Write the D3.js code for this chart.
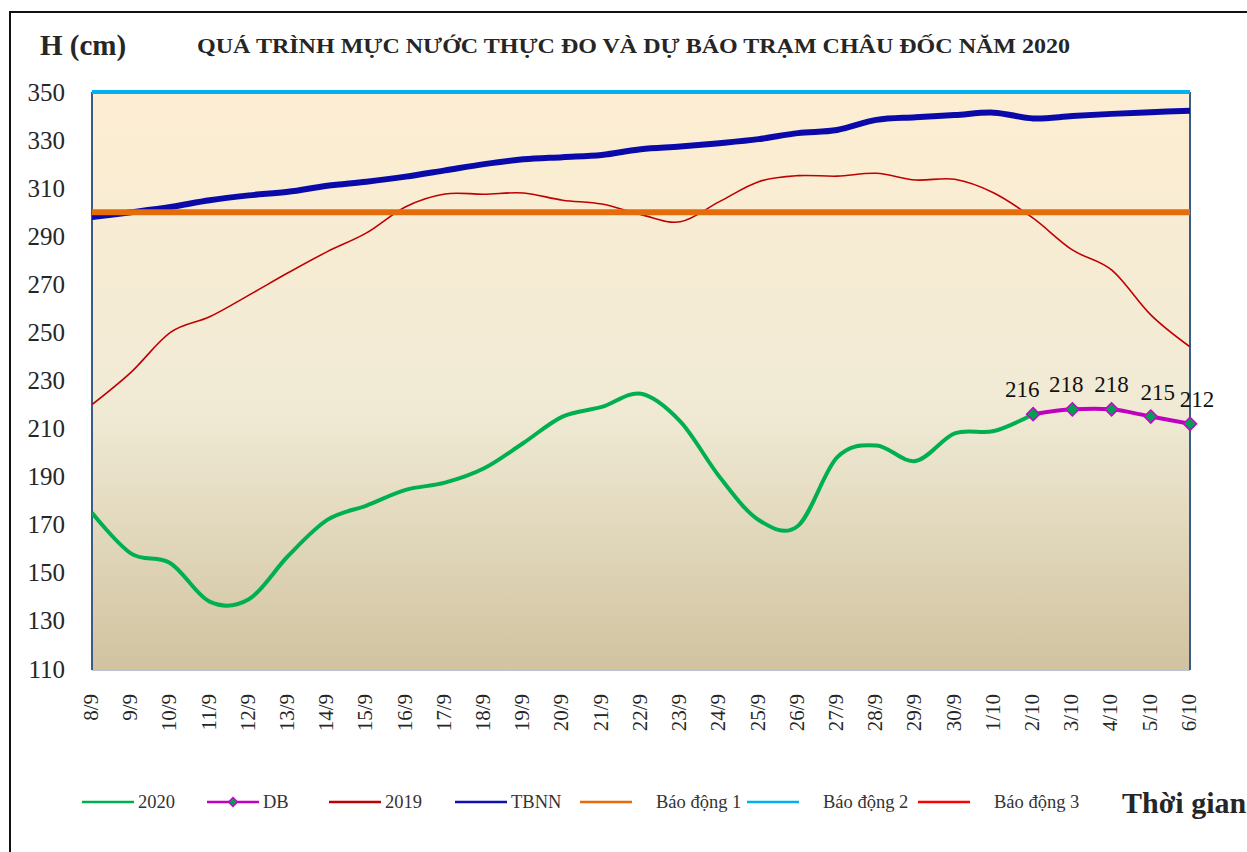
<!DOCTYPE html>
<html>
<meta charset="utf-8">
<title>Mực nước Châu Đốc 2020</title>
<style>
body {
  margin: 0;
  background: #fff;
}

svg text {
  font-family: "Liberation Serif", "Times New Roman", serif;
}

.axis path,
.axis line {
  display: none;
}

.axis text {
  fill: #262626;
}

.legend text {
  font-size: 18.5px;
  fill: #333;
}
</style>
<body>
<div id="chart"></div>
<script src="https://d3js.org/d3.v7.min.js"></script>
<script>

// ngày (trục hoành)
var dates = ["8/9", "9/9", "10/9", "11/9", "12/9", "13/9", "14/9", "15/9", "16/9", "17/9",
  "18/9", "19/9", "20/9", "21/9", "22/9", "23/9", "24/9", "25/9", "26/9", "27/9",
  "28/9", "29/9", "30/9", "1/10", "2/10", "3/10", "4/10", "5/10", "6/10"];

// thực đo 2020 (8/9 -> 2/10)
var h2020 = [175, 158, 154, 138, 139, 157, 172, 178, 184.5, 187.5,
  193.5, 204, 215, 219, 224.5, 213, 190, 172, 169.5, 198,
  203, 196.5, 208, 209, 216];

// dự báo
var dbDates = ["2/10", "3/10", "4/10", "5/10", "6/10"];
var dbValues = [216, 218, 218, 215, 212];

// năm 2019
var h2019 = [220, 233.5, 250, 256.5, 265.5, 274.8, 283.6, 291.4, 302.3, 307.6,
  307.5, 308, 305, 303.4, 299, 296, 304.4, 312.7, 315.2, 315,
  316.2, 313.4, 313.7, 308, 297.5, 284.3, 276, 257.3, 244];

// trung bình nhiều năm
var tbnn = [298, 300, 302.2, 305, 307, 308.5, 311, 312.7, 314.8, 317.4,
  320, 322, 322.9, 323.8, 326.2, 327.3, 328.7, 330.4, 332.9, 334.2,
  338.4, 339.5, 340.4, 341.4, 339, 340, 340.9, 341.6, 342.2];

// mức báo động 1, 2, 3
var alarmNames = ["Báo động 1", "Báo động 2", "Báo động 3"];
var alarmLevels = [300, 350, 400];

var yTicks = [110, 130, 150, 170, 190, 210, 230, 250, 270, 290, 310, 330, 350];

var width = 1247,
  height = 852;

var plot = { left: 92, right: 1190, top: 92, bottom: 669 };

var x = d3.scalePoint()
  .domain(dates)
  .range([plot.left, plot.right]);

var y = d3.scaleLinear()
  .domain([110, 350])
  .range([plot.bottom, plot.top]);

var svg = d3.select("#chart").append("svg")
  .attr("width", width)
  .attr("height", height);

var defs = svg.append("defs");

var grad = defs.append("linearGradient")
  .attr("id", "bg")
  .attr("x1", 0).attr("y1", 0)
  .attr("x2", 0).attr("y2", 1);
grad.append("stop").attr("offset", "0%").attr("stop-color", "#fdeed2");
grad.append("stop").attr("offset", "55%").attr("stop-color", "#f0ead5");
grad.append("stop").attr("offset", "100%").attr("stop-color", "#d1c3a0");

defs.append("clipPath").attr("id", "clip")
  .append("rect")
  .attr("x", plot.left)
  .attr("y", plot.top - 3)
  .attr("width", plot.right - plot.left)
  .attr("height", plot.bottom - plot.top + 3);

// khung ngoài
svg.append("path")
  .attr("d", "M10," + height + "V12H" + width)
  .attr("fill", "none")
  .attr("stroke", "#111")
  .attr("stroke-width", 2);

// nền vùng vẽ
svg.append("rect")
  .attr("x", plot.left)
  .attr("y", plot.top)
  .attr("width", plot.right - plot.left)
  .attr("height", plot.bottom - plot.top)
  .attr("fill", "url(#bg)");

svg.append("line")
  .attr("x1", plot.left).attr("x2", plot.right)
  .attr("y1", plot.bottom + 1).attr("y2", plot.bottom + 1)
  .attr("stroke", "#b9c3d3")
  .attr("stroke-width", 2);

svg.selectAll(".side")
  .data([plot.left, plot.right])
  .enter().append("line")
  .attr("class", "side")
  .attr("x1", function(d) { return d; })
  .attr("x2", function(d) { return d; })
  .attr("y1", plot.top)
  .attr("y2", plot.bottom + 1)
  .attr("stroke", "#3b5a86")
  .attr("stroke-width", 2);

// trục
svg.append("g")
  .attr("class", "axis")
  .attr("transform", "translate(" + plot.left + ",0)")
  .call(d3.axisLeft(y).tickValues(yTicks).tickSize(0).tickPadding(27))
  .selectAll("text")
  .style("font-size", "25px");

svg.append("g")
  .attr("class", "axis")
  .attr("transform", "translate(0," + plot.bottom + ")")
  .call(d3.axisBottom(x).tickSize(0))
  .selectAll("text")
  .style("font-size", "21px")
  .style("text-anchor", "end")
  .attr("transform", "rotate(-90)")
  .attr("x", -25)
  .attr("y", -2)
  .attr("dy", "0.35em");

var line = d3.line()
  .x(function(d) { return x(d[0]); })
  .y(function(d) { return y(d[1]); })
  .curve(d3.curveCatmullRom.alpha(0));

var g = svg.append("g").attr("clip-path", "url(#clip)");

function pairs(keys, vals) {
  return vals.map(function(v, i) { return [keys[i], v]; });
}

g.append("path")
  .datum(pairs(dates, h2020))
  .attr("d", line)
  .attr("fill", "none")
  .attr("stroke", "#00b050")
  .attr("stroke-width", 4);

g.append("path")
  .datum(pairs(dbDates, dbValues))
  .attr("d", line)
  .attr("fill", "none")
  .attr("stroke", "#c000c0")
  .attr("stroke-width", 4);

g.append("path")
  .datum(pairs(dates, h2019))
  .attr("d", line)
  .attr("fill", "none")
  .attr("stroke", "#c00000")
  .attr("stroke-width", 1.6);

g.append("path")
  .datum(pairs(dates, tbnn))
  .attr("d", line)
  .attr("fill", "none")
  .attr("stroke", "#0a0aaa")
  .attr("stroke-width", 6);

var alarmColors = ["#e46c0a", "#00b0f0", "#ff0000"];
var alarmWidths = [6, 4, 3];

g.selectAll(".alarm")
  .data(alarmLevels)
  .enter().append("line")
  .attr("class", "alarm")
  .attr("x1", x(dates[0]))
  .attr("x2", x(dates[dates.length - 1]))
  .attr("y1", function(d) { return y(d); })
  .attr("y2", function(d) { return y(d); })
  .attr("stroke", function(d, i) { return alarmColors[i]; })
  .attr("stroke-width", function(d, i) { return alarmWidths[i]; });

// điểm dự báo
var diamond = d3.symbol().type(d3.symbolDiamond2).size(110);

svg.selectAll(".mark")
  .data(pairs(dbDates, dbValues))
  .enter().append("path")
  .attr("class", "mark")
  .attr("transform", function(d) { return "translate(" + x(d[0]) + "," + y(d[1]) + ")"; })
  .attr("d", diamond)
  .attr("fill", "#00a050")
  .attr("stroke", "#cc00cc")
  .attr("stroke-width", 1.5);

// nhãn lệch nhẹ như bản gốc
var labelShift = [-11, -6, 0, 7, 7];

svg.selectAll(".lbl")
  .data(pairs(dbDates, dbValues))
  .enter().append("text")
  .attr("class", "lbl")
  .attr("x", function(d, i) { return x(d[0]) + labelShift[i]; })
  .attr("y", function(d) { return y(d[1]) - 17; })
  .attr("text-anchor", "middle")
  .style("font-size", "23px")
  .style("fill", "#111")
  .text(function(d) { return d[1]; });

// tiêu đề
svg.append("text")
  .attr("x", 40)
  .attr("y", 55)
  .style("font-size", "29px")
  .style("font-weight", "bold")
  .style("fill", "#262626")
  .text("H (cm)");

svg.append("text")
  .attr("x", 197)
  .attr("y", 53)
  .style("font-size", "21px")
  .style("font-weight", "bold")
  .style("fill", "#262626")
  .attr("textLength", 873)
  .attr("lengthAdjust", "spacingAndGlyphs")
  .text("QUÁ TRÌNH MỰC NƯỚC THỰC ĐO VÀ DỰ BÁO TRẠM CHÂU ĐỐC NĂM  2020");

// chú thích
var legendItems = [
  { name: "2020", color: "#00b050", x: 82 },
  { name: "DB", color: "#c000c0", x: 207, marker: true },
  { name: "2019", color: "#c00000", x: 329 },
  { name: "TBNN", color: "#1010b0", x: 455 },
  { name: alarmNames[0], color: alarmColors[0], x: 580 },
  { name: alarmNames[1], color: alarmColors[1], x: 747 },
  { name: alarmNames[2], color: alarmColors[2], x: 918 }
];

var legend = svg.append("g")
  .attr("class", "legend")
  .attr("transform", "translate(0,802)");

var item = legend.selectAll("g")
  .data(legendItems)
  .enter().append("g")
  .attr("transform", function(d) { return "translate(" + d.x + ",0)"; });

item.append("line")
  .attr("x1", 0)
  .attr("x2", 52)
  .attr("stroke", function(d) { return d.color; })
  .attr("stroke-width", 2.5);

item.filter(function(d) { return d.marker; })
  .append("path")
  .attr("transform", "translate(26,0)")
  .attr("d", d3.symbol().type(d3.symbolDiamond2).size(50))
  .attr("fill", "#00a050")
  .attr("stroke", "#cc00cc")
  .attr("stroke-width", 1.5);

item.append("text")
  .attr("x", function(d) { return d.name.length > 4 ? 76 : 56; })
  .attr("dy", "0.35em")
  .text(function(d) { return d.name; });

svg.append("text")
  .attr("x", 1122)
  .attr("y", 813)
  .style("font-size", "30px")
  .style("font-weight", "bold")
  .style("fill", "#262626")
  .text("Thời gian");

</script>
</body>
</html>
